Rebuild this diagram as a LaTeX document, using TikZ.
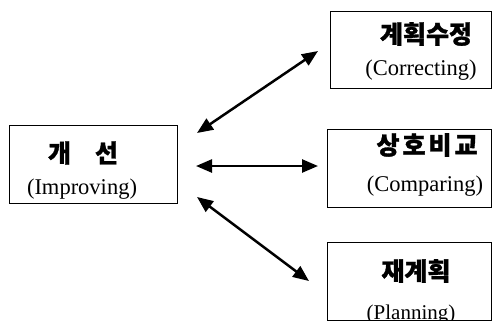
\documentclass[tikz,border=0pt]{standalone}
\usepackage{fontspec}
\setmainfont{Liberation Serif}
\newfontfamily\kr{Noto Sans CJK KR}[BoldFeatures={FakeBold=1.2}]
\usetikzlibrary{arrows.meta}
\begin{document}
\begin{tikzpicture}[x=1bp,y=-1bp,
  box/.style={draw,line width=1bp,inner sep=0pt,minimum height=78bp},
  kor/.style={inner sep=0pt,font=\kr\bfseries\fontsize{25bp}{25bp}\selectfont},
  eng/.style={inner sep=0pt,anchor=base,font=\fontsize{22.5bp}{24bp}\selectfont},
  link/.style={line width=2.5bp,{Triangle[length=16bp,width=13bp]}-{Triangle[length=16bp,width=13bp]}}
]
\useasboundingbox (0,0) rectangle (493,321);

% boxes
\node[box,minimum width=167bp] (imp) at (93.5,164) {};
\node[box,minimum width=161bp,minimum height=77bp] (cor) at (411,49.5) {};
\node[box,minimum width=164bp] (cmp) at (409.5,168) {};
\node[box,minimum width=164bp] (pln) at (409.5,281) {};

% labels
\node[kor] (impk) at (83,153) {개\hspace{24bp}선};
\begin{scope}
  \clip (10,125) rectangle (177,198);
  \node[eng] (impe) at (82,194) {(Improving)};
\end{scope}

\node[kor] (cork) at (426,34) {계획수정};
\begin{scope}
  \clip (330,11) rectangle (492,80);
  \node[eng] (core) at (421,75) {(Correcting)};
\end{scope}

\node[kor] (cmpk) at (427,145) {상\hspace{3bp}호\hspace{3bp}비\hspace{3bp}교};
\node[eng] (cmpe) at (425,191) {(Comparing)};

\node[kor] (plnk) at (416,271) {재계획};
\begin{scope}
  \clip (327,242) rectangle (492,320);
  \node[eng,font=\fontsize{21bp}{23bp}\selectfont] (plne) at (411,319.5) {(Planning)};
\end{scope}

% arrow ends
\coordinate (a1) at (197,133);
\coordinate (b1) at (318,51);
\coordinate (a2) at (196,166);
\coordinate (b2) at (318,166);
\coordinate (a3) at (197,197);
\coordinate (b3) at (309,281);

\draw[link] (a1) -- (b1);
\draw[link] (a2) -- (b2);
\draw[link] (a3) -- (b3);
\end{tikzpicture}
\end{document}
